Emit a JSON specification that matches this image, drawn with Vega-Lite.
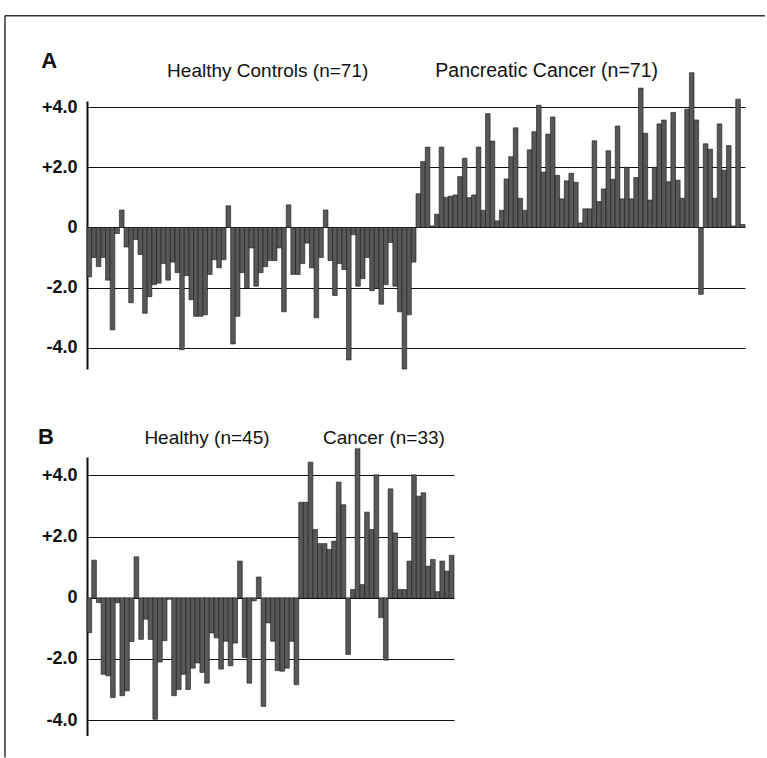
{
  "$schema": "https://vega.github.io/schema/vega-lite/v6.json",
  "background": "white",
  "padding": {"left": 4, "top": 15, "right": 0, "bottom": 0},
  "bounds": "flush",
  "spacing": 88,
  "config": {
    "view": {"stroke": null},
    "font": "Liberation Sans"
  },
  "datasets": {
    "panelA": [
      {"n":1,"v":-1.64},{"n":2,"v":-1.0},{"n":3,"v":-1.3},{"n":4,"v":-1.0},{"n":5,"v":-1.75},{"n":6,"v":-3.4},{"n":7,"v":-0.2},{"n":8,"v":0.58},{"n":9,"v":-0.65},{"n":10,"v":-2.5},
      {"n":11,"v":-0.4},{"n":12,"v":-0.9},{"n":13,"v":-2.85},{"n":14,"v":-2.3},{"n":15,"v":-1.9},{"n":16,"v":-1.85},{"n":17,"v":-1.2},{"n":18,"v":-1.75},{"n":19,"v":-1.15},{"n":20,"v":-1.5},
      {"n":21,"v":-4.06},{"n":22,"v":-1.6},{"n":23,"v":-2.4},{"n":24,"v":-2.95},{"n":25,"v":-2.95},{"n":26,"v":-2.9},{"n":27,"v":-1.56},{"n":28,"v":-1.07},{"n":29,"v":-1.34},{"n":30,"v":-1.07},
      {"n":31,"v":0.72},{"n":32,"v":-3.87},{"n":33,"v":-2.95},{"n":34,"v":-1.5},{"n":35,"v":-2.0},{"n":36,"v":-0.68},{"n":37,"v":-1.95},{"n":38,"v":-1.5},{"n":39,"v":-1.3},{"n":40,"v":-1.1},
      {"n":41,"v":-1.1},{"n":42,"v":-0.68},{"n":43,"v":-2.8},{"n":44,"v":0.75},{"n":45,"v":-1.56},{"n":46,"v":-1.56},{"n":47,"v":-1.2},{"n":48,"v":-0.52},{"n":49,"v":-1.34},{"n":50,"v":-3.0},
      {"n":51,"v":-1.0},{"n":52,"v":0.58},{"n":53,"v":-1.1},{"n":54,"v":-2.26},{"n":55,"v":-1.2},{"n":56,"v":-1.4},{"n":57,"v":-4.4},{"n":58,"v":-0.24},{"n":59,"v":-1.95},{"n":60,"v":-1.7},
      {"n":61,"v":-1.0},{"n":62,"v":-2.1},{"n":63,"v":-2.0},{"n":64,"v":-2.55},{"n":65,"v":-1.9},{"n":66,"v":-0.5},{"n":67,"v":-1.95},{"n":68,"v":-2.8},{"n":69,"v":-4.7},{"n":70,"v":-2.9},
      {"n":71,"v":-1.15},
      {"n":72,"v":1.12},{"n":73,"v":2.19},{"n":74,"v":2.67},{"n":75,"v":0.05},{"n":76,"v":0.44},{"n":77,"v":2.67},{"n":78,"v":1.0},{"n":79,"v":1.04},{"n":80,"v":1.08},
      {"n":81,"v":1.69},{"n":82,"v":2.3},{"n":83,"v":0.99},{"n":84,"v":1.08},{"n":85,"v":2.67},{"n":86,"v":0.57},{"n":87,"v":3.78},{"n":88,"v":2.87},{"n":89,"v":0.22},{"n":90,"v":0.57},
      {"n":91,"v":1.61},{"n":92,"v":2.35},{"n":93,"v":3.31},{"n":94,"v":0.97},{"n":95,"v":0.57},{"n":96,"v":2.58},{"n":97,"v":3.18},{"n":98,"v":4.06},{"n":99,"v":1.84},{"n":100,"v":3.1},
      {"n":101,"v":3.67},{"n":102,"v":1.73},{"n":103,"v":0.95},{"n":104,"v":1.55},{"n":105,"v":1.8},{"n":106,"v":1.5},{"n":107,"v":0.15},{"n":108,"v":0.62},{"n":109,"v":0.62},{"n":110,"v":2.88},
      {"n":111,"v":0.86},{"n":112,"v":1.28},{"n":113,"v":2.55},{"n":114,"v":1.6},{"n":115,"v":3.37},{"n":116,"v":0.95},{"n":117,"v":2.0},{"n":118,"v":0.95},{"n":119,"v":1.66},{"n":120,"v":4.63},
      {"n":121,"v":3.13},{"n":122,"v":0.91},{"n":123,"v":2.0},{"n":124,"v":3.44},{"n":125,"v":3.57},{"n":126,"v":1.52},{"n":127,"v":3.82},{"n":128,"v":1.57},{"n":129,"v":0.97},{"n":130,"v":3.93},
      {"n":131,"v":5.14},{"n":132,"v":3.57},{"n":133,"v":-2.22},{"n":134,"v":2.78},{"n":135,"v":2.6},{"n":136,"v":0.97},{"n":137,"v":3.44},{"n":138,"v":1.9},{"n":139,"v":2.72},{"n":140,"v":0.05},
      {"n":141,"v":4.26},{"n":142,"v":0.1}
    ],
    "panelB": [
      {"n":1,"v":-1.14},{"n":2,"v":1.23},{"n":3,"v":-0.16},{"n":4,"v":-2.5},{"n":5,"v":-2.55},{"n":6,"v":-3.26},{"n":7,"v":-0.16},{"n":8,"v":-3.2},{"n":9,"v":-3.04},{"n":10,"v":-1.43},
      {"n":11,"v":1.34},{"n":12,"v":-1.36},{"n":13,"v":-0.7},{"n":14,"v":-1.36},{"n":15,"v":-3.97},{"n":16,"v":-2.1},{"n":17,"v":-1.4},{"n":18,"v":-0.05},{"n":19,"v":-3.2},{"n":20,"v":-3.0},
      {"n":21,"v":-2.5},{"n":22,"v":-3.0},{"n":23,"v":-2.3},{"n":24,"v":-2.13},{"n":25,"v":-2.44},{"n":26,"v":-2.79},{"n":27,"v":-1.15},{"n":28,"v":-1.31},{"n":29,"v":-2.33},{"n":30,"v":-1.42},
      {"n":31,"v":-2.22},{"n":32,"v":-1.48},{"n":33,"v":1.2},{"n":34,"v":-1.95},{"n":35,"v":-2.79},{"n":36,"v":-0.1},{"n":37,"v":0.68},{"n":38,"v":-3.55},{"n":39,"v":-0.82},{"n":40,"v":-1.42},
      {"n":41,"v":-2.38},{"n":42,"v":-2.4},{"n":43,"v":-2.3},{"n":44,"v":-1.42},{"n":45,"v":-2.84},
      {"n":46,"v":3.12},{"n":47,"v":3.12},{"n":48,"v":4.43},{"n":49,"v":2.23},{"n":50,"v":1.77},
      {"n":51,"v":1.77},{"n":52,"v":1.58},{"n":53,"v":1.85},{"n":54,"v":3.78},{"n":55,"v":3.04},{"n":56,"v":-1.85},{"n":57,"v":0.27},{"n":58,"v":4.87},{"n":59,"v":0.43},{"n":60,"v":2.8},
      {"n":61,"v":2.23},{"n":62,"v":4.02},{"n":63,"v":-0.65},{"n":64,"v":-2.04},{"n":65,"v":3.56},{"n":66,"v":2.12},{"n":67,"v":0.27},{"n":68,"v":0.27},{"n":69,"v":1.2},{"n":70,"v":4.02},
      {"n":71,"v":3.32},{"n":72,"v":3.43},{"n":73,"v":1.03},{"n":74,"v":1.25},{"n":75,"v":0.2},{"n":76,"v":1.2},{"n":77,"v":0.87},{"n":78,"v":1.39}
    ]
  },
  "vconcat": [
    {
      "width": 658,
      "height": 268,
      "layer": [
        {
          "data": {"name": "panelA"},
          "transform": [{"calculate": "datum.n - 1", "as": "n0"}],
          "mark": {"type": "bar", "fill": "#585858", "stroke": "#1a1a1a", "strokeWidth": 0.6},
          "encoding": {
            "x": {"field": "n0", "type": "quantitative", "scale": {"domain": [0, 142], "nice": false, "zero": false, "padding": 0}, "axis": null},
            "x2": {"field": "n"},
            "y": {"field": "v", "type": "quantitative", "scale": {"domain": [-4.7, 4.2], "nice": false, "zero": false, "padding": 0},
              "axis": {
                "values": [-4, -2, 0, 2, 4],
                "labelExpr": "datum.value > 0 ? '+' + format(datum.value, '.1f') : (datum.value < 0 ? '-' + format(-datum.value, '.1f') : '0')",
                "grid": true, "gridColor": "#111111", "gridWidth": 1.2,
                "domainColor": "#111111", "domainWidth": 2, "ticks": false,
                "labelPadding": 10, "labelFont": "Liberation Sans", "labelFontWeight": "bold", "labelFontSize": 18, "labelColor": "#111111",
                "title": null
              }},
            "y2": {"datum": 0}
          }
        },
        {
          "data": {"values": [{}]},
          "mark": {"type": "text", "align": "left", "baseline": "alphabetic", "fontSize": 22, "fontWeight": "bold", "font": "Liberation Sans", "color": "#111111"},
          "encoding": {"x": {"datum": -9.9}, "y": {"datum": 5.3}, "text": {"value": "A"}}
        },
        {
          "data": {"values": [{}]},
          "mark": {"type": "text", "align": "center", "baseline": "alphabetic", "fontSize": 19, "font": "Liberation Sans", "color": "#111111"},
          "encoding": {"x": {"datum": 39.0}, "y": {"datum": 5.0}, "text": {"value": "Healthy Controls (n=71)"}}
        },
        {
          "data": {"values": [{}]},
          "mark": {"type": "text", "align": "center", "baseline": "alphabetic", "fontSize": 19.5, "font": "Liberation Sans", "color": "#111111"},
          "encoding": {"x": {"datum": 99.2}, "y": {"datum": 5.0}, "text": {"value": "Pancreatic Cancer (n=71)"}}
        },
        {
          "data": {"values": [{}]},
          "mark": {"type": "rule", "color": "#333333", "strokeWidth": 1.5},
          "encoding": {"x": {"datum": -17.7}, "x2": {"datum": 146.3}, "y": {"datum": 7.03}}
        },
        {
          "data": {"values": [{}]},
          "mark": {"type": "rule", "color": "#333333", "strokeWidth": 1.5},
          "encoding": {"x": {"datum": -17.7}, "y": {"datum": 7.03}, "y2": {"datum": -17.6}}
        }
      ]
    },
    {
      "width": 367,
      "height": 278.5,
      "layer": [
        {
          "data": {"name": "panelB"},
          "transform": [{"calculate": "datum.n - 1", "as": "n0"}],
          "mark": {"type": "bar", "fill": "#585858", "stroke": "#1a1a1a", "strokeWidth": 0.6},
          "encoding": {
            "x": {"field": "n0", "type": "quantitative", "scale": {"domain": [0, 78], "nice": false, "zero": false, "padding": 0}, "axis": null},
            "x2": {"field": "n"},
            "y": {"field": "v", "type": "quantitative", "scale": {"domain": [-4.5, 4.6], "nice": false, "zero": false, "padding": 0},
              "axis": {
                "values": [-4, -2, 0, 2, 4],
                "labelExpr": "datum.value > 0 ? '+' + format(datum.value, '.1f') : (datum.value < 0 ? '-' + format(-datum.value, '.1f') : '0')",
                "grid": true, "gridColor": "#111111", "gridWidth": 1.2,
                "domainColor": "#111111", "domainWidth": 2, "ticks": false,
                "labelPadding": 10, "labelFont": "Liberation Sans", "labelFontWeight": "bold", "labelFontSize": 18, "labelColor": "#111111",
                "title": null
              }},
            "y2": {"datum": 0}
          }
        },
        {
          "data": {"values": [{}]},
          "mark": {"type": "text", "align": "left", "baseline": "alphabetic", "fontSize": 22, "fontWeight": "bold", "font": "Liberation Sans", "color": "#111111"},
          "encoding": {"x": {"datum": -10.4}, "y": {"datum": 5.03}, "text": {"value": "B"}}
        },
        {
          "data": {"values": [{}]},
          "mark": {"type": "text", "align": "center", "baseline": "alphabetic", "fontSize": 19, "font": "Liberation Sans", "color": "#111111"},
          "encoding": {"x": {"datum": 25.5}, "y": {"datum": 5.03}, "text": {"value": "Healthy (n=45)"}}
        },
        {
          "data": {"values": [{}]},
          "mark": {"type": "text", "align": "center", "baseline": "alphabetic", "fontSize": 19, "font": "Liberation Sans", "color": "#111111"},
          "encoding": {"x": {"datum": 63.1}, "y": {"datum": 5.03}, "text": {"value": "Cancer (n=33)"}}
        }
      ]
    }
  ]
}
